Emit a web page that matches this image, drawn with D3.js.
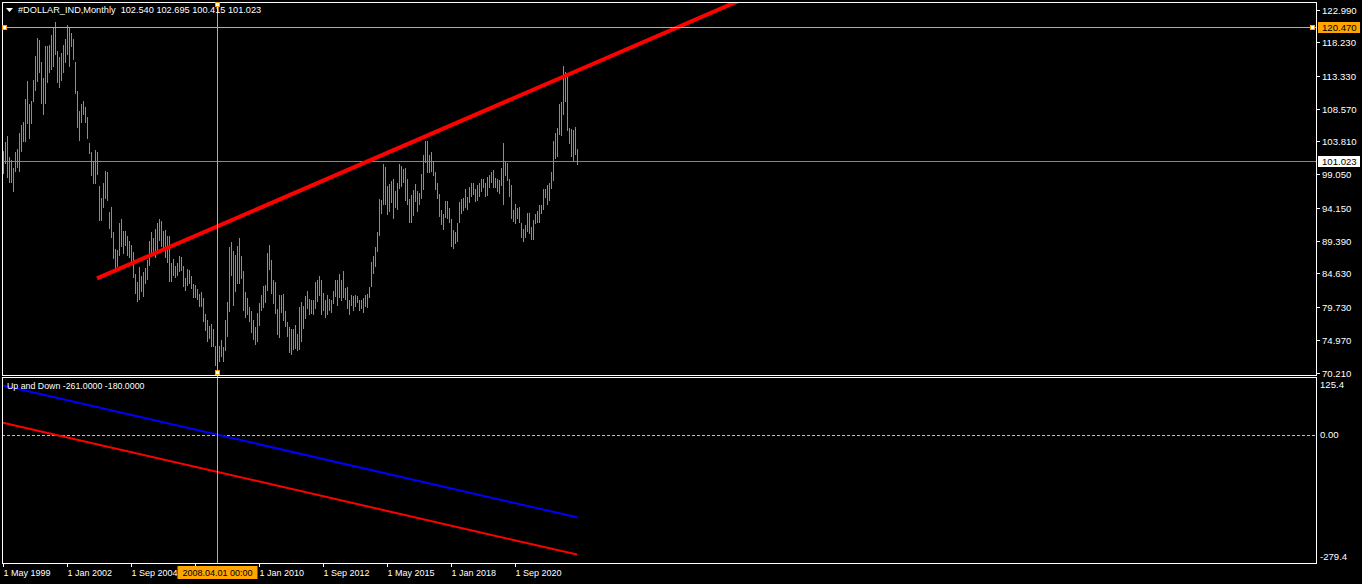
<!DOCTYPE html>
<html>
<head>
<meta charset="utf-8">
<script src="https://cdn.jsdelivr.net/npm/d3@7"></script>
<style>
  body { margin: 0; background: #000; }
  svg { display: block; font-family: "Liberation Sans", Arial, sans-serif; font-size: 9.6px; }
  text { white-space: pre; }
</style>
</head>
<body>
<svg id="chart"></svg>
<script>
// monthly bars, May 1999 .. Apr 2023
const startDate = new Date(Date.UTC(1999, 4, 1));

const highs = [
  // 1999 (May-Dec)
  102.4, 103.7, 104.6, 101.6, 101.1, 100.0, 102.3, 102.7,
  // 2000
  105.1, 106.2, 106.7, 110.0, 112.6, 109.2, 109.7, 112.7, 116.3, 118.8, 118.5, 115.3,
  // 2001
  113.0, 117.7, 117.7, 117.9, 119.3, 120.3, 121.1, 117.0, 116.1, 116.7, 117.9, 118.7,
  // 2002
  120.7, 120.3, 119.6, 118.7, 115.3, 111.1, 108.2, 109.2, 109.7, 108.8, 107.3, 103.6,
  // 2003
  102.2, 100.9, 102.5, 102.2, 97.3, 95.6, 97.8, 99.5, 99.4, 93.6, 94.3, 90.6,
  // 2004
  88.2, 88.0, 91.9, 92.5, 90.8, 90.8, 90.1, 89.4, 88.7, 87.8, 84.5, 83.3,
  // 2005
  85.5, 84.3, 84.8, 85.4, 86.5, 89.4, 90.7, 89.7, 91.1, 91.9, 92.5, 92.3,
  // 2006
  90.8, 90.9, 90.1, 90.1, 86.2, 86.7, 85.7, 86.1, 87.1, 87.0, 85.7, 84.0,
  // 2007
  85.2, 85.1, 84.3, 83.1, 83.0, 82.3, 81.6, 81.9, 81.0, 78.7, 77.9, 77.0,
  // 2008
  77.2, 76.5, 74.0, 73.8, 74.1, 74.9, 73.9, 77.8, 80.4, 88.5, 89.2, 87.9,
  // 2009
  87.3, 88.6, 89.7, 87.2, 85.0, 81.9, 81.1, 79.8, 79.1, 77.8, 76.8, 78.8,
  // 2010
  80.3, 81.5, 82.8, 83.0, 87.6, 88.7, 86.6, 83.7, 83.3, 79.5, 81.5, 81.5,
  // 2011
  81.6, 79.1, 77.6, 76.8, 76.5, 76.5, 77.1, 75.8, 79.7, 80.5, 79.9, 81.4,
  // 2012
  82.1, 80.9, 80.8, 80.8, 83.3, 83.7, 84.3, 83.6, 81.7, 80.7, 81.5, 80.9,
  // 2013
  80.8, 82.1, 83.6, 83.7, 84.5, 83.6, 85.0, 82.5, 82.7, 80.7, 81.5, 81.4,
  // 2014
  81.5, 81.3, 80.8, 80.8, 81.1, 81.5, 81.6, 82.7, 86.3, 87.2, 88.5, 90.7,
  // 2015
  95.5, 95.3, 100.5, 100.1, 97.3, 97.6, 98.0, 98.3, 96.6, 97.8, 100.5, 100.3,
  // 2016
  99.8, 99.9, 98.3, 95.5, 96.0, 96.7, 97.6, 96.6, 96.3, 99.1, 101.9, 103.8,
  // 2017
  103.8, 101.8, 102.3, 101.0, 99.4, 97.7, 96.1, 93.8, 93.2, 95.2, 95.1, 94.2,
  // 2018
  92.6, 91.0, 90.6, 91.9, 95.0, 95.5, 95.6, 96.9, 95.7, 97.2, 97.7, 97.7,
  // 2019
  96.9, 97.4, 97.7, 98.3, 98.4, 97.8, 98.7, 98.9, 99.4, 99.7, 98.5, 98.3,
  // 2020
  98.2, 99.9, 103.6, 100.9, 100.6, 98.3, 97.4, 93.9, 94.7, 94.1, 94.3, 92.0,
  // 2021
  91.1, 91.6, 93.4, 93.4, 91.4, 92.4, 93.2, 93.7, 94.5, 94.6, 96.9, 96.9,
  // 2022
  97.4, 97.8, 99.4, 103.9, 105.0, 105.8, 109.3, 109.5, 114.8, 113.9, 113.2, 105.8,
  // 2023 (Jan-Apr)
  105.6, 105.4, 105.9, 102.695
];

const lows = [
  99.0, 100.5, 98.5, 97.8, 97.8, 96.5, 99.3, 100.0,
  99.3, 102.3, 103.7, 103.7, 106.3, 104.2, 106.4, 109.6, 111.1, 112.5, 113.8, 109.2,
  107.7, 109.3, 112.3, 113.8, 114.2, 114.7, 116.4, 112.3, 111.6, 112.6, 113.8, 115.2,
  116.4, 114.7, 117.6, 115.7, 110.7, 105.8, 103.9, 106.5, 107.7, 106.5, 104.2, 102.0,
  98.8, 97.6, 97.6, 98.9, 92.2, 92.2, 94.2, 95.5, 95.2, 91.1, 89.8, 86.7,
  85.2, 85.5, 87.2, 88.4, 87.4, 88.6, 87.2, 86.8, 86.2, 84.0, 81.6, 80.4,
  80.8, 81.9, 81.2, 83.1, 83.6, 85.7, 87.0, 87.7, 86.9, 87.4, 89.4, 88.4,
  88.1, 86.9, 86.2, 83.3, 83.3, 84.3, 84.0, 84.3, 84.8, 84.9, 82.6, 82.0,
  82.8, 83.1, 82.3, 81.0, 81.1, 80.7, 79.7, 79.8, 77.5, 76.3, 74.6, 75.1,
  73.9, 73.9, 71.1, 71.3, 71.7, 72.4, 71.7, 73.3, 75.3, 79.0, 84.3, 79.9,
  81.9, 83.1, 83.1, 83.8, 79.2, 78.2, 78.5, 77.5, 75.9, 74.9, 74.2, 74.6,
  77.0, 79.2, 79.6, 80.3, 82.0, 85.1, 81.6, 80.2, 78.7, 75.6, 75.2, 78.9,
  77.7, 76.8, 75.4, 73.0, 72.8, 73.5, 73.6, 73.4, 73.5, 74.6, 76.5, 78.0,
  79.4, 78.5, 78.7, 78.5, 79.4, 80.5, 81.3, 78.5, 79.1, 78.1, 78.6, 79.2,
  78.9, 80.2, 81.2, 79.9, 81.1, 80.6, 81.1, 80.7, 79.4, 78.5, 79.9, 79.1,
  79.7, 80.3, 79.2, 79.4, 78.9, 79.7, 79.6, 81.1, 82.6, 84.5, 85.6, 87.7,
  90.0, 93.2, 94.6, 94.5, 93.1, 93.5, 94.9, 92.6, 94.1, 93.8, 96.9, 97.2,
  97.7, 95.2, 94.6, 91.9, 91.9, 93.0, 95.0, 93.5, 94.5, 95.5, 96.8, 100.6,
  99.2, 99.2, 99.3, 98.8, 96.8, 95.5, 92.8, 91.6, 91.0, 92.7, 92.5, 91.9,
  88.4, 88.2, 88.9, 89.2, 91.9, 93.2, 93.7, 94.1, 93.8, 94.8, 95.7, 96.0,
  95.0, 95.2, 95.7, 96.5, 97.0, 95.8, 95.9, 97.1, 97.8, 97.1, 97.0, 96.4,
  96.2, 97.3, 94.6, 98.8, 98.0, 95.7, 92.5, 92.1, 91.8, 92.5, 91.9, 89.7,
  89.2, 89.7, 90.6, 90.4, 89.5, 89.5, 91.8, 92.0, 91.9, 93.3, 93.9, 95.6,
  94.6, 95.1, 96.9, 98.0, 101.3, 101.6, 104.7, 104.6, 107.7, 109.5, 105.3, 103.4,
  101.5, 100.8, 101.9, 100.415
];

// last bar O H L C shown in the header, current bid
const lastOHLC = [102.540, 102.695, 100.415, 101.023];
const bidPrice = 101.023;

// objects on the chart
const hLinePrice = 120.470;
const vLineBar = 107;
const trendBars = [47, 280];
const trendPrices = [83.9, 113.2];

// "Up and Down" indicator lines (bar index -> value)
const lineBars = [0, 287];
const blueValues = [107, -180];
const redValues = [26, -261];

// axis labels
const priceTicks = [122.990, 118.230, 113.330, 108.570, 103.810, 99.050, 94.150, 89.390, 84.630, 79.730, 74.970, 70.210];
const subTicks = ["125.4", "0.00", "-279.4"];
const timeLabels = ["1 May 1999", "1 Jan 2002", "1 Sep 2004", "1 May 2007", "1 Jan 2010", "1 Sep 2012", "1 May 2015", "1 Jan 2018", "1 Sep 2020"];
const timeStep = 32;

const width = 1362;
const height = 584;
const left = 2, right = 1316;
const mainTop = 2, mainBottom = 375;
const subTop = 377, subBottom = 563;

const svg = d3.select("#chart").attr("width", width).attr("height", height);

svg.append("rect").attr("width", width).attr("height", height).attr("fill", "#000");

const x = d3.scaleLinear().domain([0, highs.length - 1]).range([3, 3 + 2 * (highs.length - 1)]);
const y = d3.scaleLinear().domain([70.21, 122.99]).range([372.5, 9.5]);
const ySub = d3.scaleLinear().domain([-279.4, 125.4]).range([subBottom, subTop]);

const px = (i) => Math.round(x(i)) + 0.5;

svg.append("clipPath").attr("id", "clipMain")
  .append("rect").attr("x", left).attr("y", mainTop)
  .attr("width", right - left).attr("height", mainBottom - mainTop);
svg.append("clipPath").attr("id", "clipSub")
  .append("rect").attr("x", left).attr("y", subTop)
  .attr("width", right - left).attr("height", subBottom - subTop);

const main = svg.append("g").attr("clip-path", "url(#clipMain)");
const sub = svg.append("g").attr("clip-path", "url(#clipSub)");

// bid line
main.append("line")
  .attr("x1", left).attr("x2", right)
  .attr("y1", Math.round(y(bidPrice)) + 0.5).attr("y2", Math.round(y(bidPrice)) + 0.5)
  .attr("stroke", "#778899").attr("stroke-width", 1);

// price bars
main.selectAll(".bar")
  .data(highs.map((h, i) => ({ i, h, l: lows[i] })))
  .enter()
  .append("line")
  .attr("class", "bar")
  .attr("x1", (d) => px(d.i)).attr("x2", (d) => px(d.i))
  .attr("y1", (d) => y(d.h)).attr("y2", (d) => y(d.l))
  .attr("stroke", "#32cd32").attr("stroke-width", 1)
  .style("shape-rendering", "crispEdges");

// trend line (ray)
const slope = (trendPrices[1] - trendPrices[0]) / (trendBars[1] - trendBars[0]);
const rayEnd = 420;
main.append("line")
  .attr("x1", x(trendBars[0])).attr("y1", y(trendPrices[0]))
  .attr("x2", x(rayEnd)).attr("y2", y(trendPrices[0] + slope * (rayEnd - trendBars[0])))
  .attr("stroke", "#ff0000").attr("stroke-width", 4);

// horizontal line object
const hy = Math.round(y(hLinePrice)) + 0.5;
main.append("line")
  .attr("x1", left).attr("x2", right).attr("y1", hy).attr("y2", hy)
  .attr("stroke", "#ffa500").attr("stroke-width", 1);

// sub window: zero level and indicator lines
const zy = Math.round(ySub(0)) + 0.5;
sub.append("line")
  .attr("x1", left).attr("x2", right).attr("y1", zy).attr("y2", zy)
  .attr("stroke", "#f0c814").attr("stroke-width", 1).attr("stroke-dasharray", "3,2");

const subLine = d3.line().x((d) => x(d[0])).y((d) => ySub(d[1]));
sub.append("path")
  .attr("d", subLine(lineBars.map((b, k) => [b, blueValues[k]])))
  .attr("fill", "none").attr("stroke", "#0000ff").attr("stroke-width", 2);
sub.append("path")
  .attr("d", subLine(lineBars.map((b, k) => [b, redValues[k]])))
  .attr("fill", "none").attr("stroke", "#ff0000").attr("stroke-width", 2);

// vertical line object
const vx = px(vLineBar);
svg.append("line")
  .attr("x1", vx).attr("x2", vx).attr("y1", mainTop).attr("y2", subBottom)
  .attr("stroke", "#ffa500").attr("stroke-width", 1);

// window frames
svg.append("rect").attr("x", left + 0.5).attr("y", mainTop + 0.5)
  .attr("width", right - left).attr("height", mainBottom - mainTop)
  .attr("fill", "none").attr("stroke", "#fff");
svg.append("rect").attr("x", left + 0.5).attr("y", subTop + 0.5)
  .attr("width", right - left).attr("height", subBottom - subTop)
  .attr("fill", "none").attr("stroke", "#fff");

// selection handles
const handles = [
  [left + 3, hy], [right - 3, hy],
  [vx, mainTop + 3], [vx, mainBottom - 2]
];
svg.selectAll(".handle")
  .data(handles)
  .enter()
  .append("rect")
  .attr("class", "handle")
  .attr("x", (d) => Math.round(d[0]) - 2.5).attr("y", (d) => Math.round(d[1]) - 2.5)
  .attr("width", 4).attr("height", 4)
  .attr("fill", "#fff").attr("stroke", "#ffa500");

// right price axis
const priceAxis = svg.append("g");
priceTicks.forEach((p) => {
  const ty = Math.round(y(p)) + 0.5;
  priceAxis.append("line")
    .attr("x1", right).attr("x2", right + 4).attr("y1", ty).attr("y2", ty)
    .attr("stroke", "#fff");
  priceAxis.append("text")
    .attr("x", right + 6).attr("y", ty).attr("dy", "0.35em")
    .attr("fill", "#fff").text(p.toFixed(3));
});

const priceLabel = (value, bg) => {
  const ty = Math.round(y(value));
  priceAxis.append("rect")
    .attr("x", right + 2).attr("y", ty - 5).attr("width", 42).attr("height", 11)
    .attr("fill", bg);
  priceAxis.append("text")
    .attr("x", right + 6).attr("y", ty + 0.5).attr("dy", "0.35em")
    .attr("fill", "#000").text(value.toFixed(3));
};
priceLabel(hLinePrice, "#ffa500");
priceLabel(bidPrice, "#fff");

// sub window axis
const subY = [subTop + 8, ySub(0), subBottom - 6];
subTicks.forEach((t, k) => {
  svg.append("text")
    .attr("x", right + 4).attr("y", subY[k]).attr("dy", "0.35em")
    .attr("fill", "#fff").text(t);
});

// time axis; the label box of the vertical line hides what lies beneath it
const vDate = d3.utcMonth.offset(startDate, vLineBar);
const boxLeft = vx - 40, boxRight = vx + 40;
const timeAxis = svg.append("g").style("font-size", "9px");
timeLabels.forEach((t, k) => {
  const tx = px(k * timeStep);
  timeAxis.append("line")
    .attr("x1", tx).attr("x2", tx).attr("y1", subBottom).attr("y2", subBottom + 4)
    .attr("stroke", "#fff");
  if (tx > boxLeft - 2 && tx < boxRight) return;
  timeAxis.append("text")
    .attr("x", tx).attr("y", 573).attr("dy", "0.35em")
    .attr("fill", "#fff").text(t);
});

timeAxis.append("rect")
  .attr("x", boxLeft).attr("y", 566).attr("width", boxRight - boxLeft).attr("height", 13)
  .attr("fill", "#ffa500");
timeAxis.append("text")
  .attr("x", vx).attr("y", 573).attr("dy", "0.35em").attr("text-anchor", "middle")
  .attr("fill", "#000").text(d3.utcFormat("%Y.%m.%d %H:%M")(vDate));

// headers
svg.append("path").attr("d", "M6,8 L13,8 L9.5,12 Z").attr("fill", "#fff");
svg.append("text")
  .attr("x", 18).attr("y", 10).attr("dy", "0.35em").attr("fill", "#fff")
  .style("font-size", "9.2px")
  .text("#DOLLAR_IND,Monthly  " + lastOHLC.map((v) => v.toFixed(3)).join(" "));
svg.append("text")
  .attr("x", 7).attr("y", 386).attr("dy", "0.35em").attr("fill", "#fff")
  .style("font-size", "8.8px")
  .text("Up and Down " + redValues[1].toFixed(4) + " " + blueValues[1].toFixed(4));
</script>
</body>
</html>
